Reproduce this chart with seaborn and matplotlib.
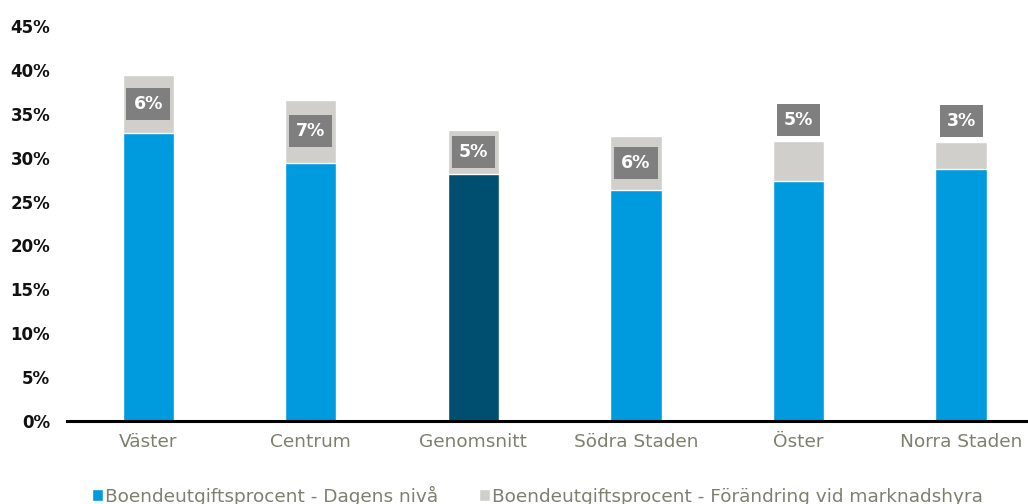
import pandas as pd
import numpy as np
import matplotlib
matplotlib.use('Agg')
import matplotlib.pyplot as plt
import seaborn as sns
from matplotlib.patches import Patch

# Data
omraden = ['Väster', 'Centrum', 'Genomsnitt', 'Södra Staden', 'Öster', 'Norra Staden']
dagens_niva = [32.8, 29.4, 28.1, 26.3, 27.4, 28.7]
forandring = [6.6, 7.2, 5.1, 6.2, 4.5, 3.1]
etiketter = ['6%', '7%', '5%', '6%', '5%', '3%']

BLA = '#009ADE'
MORKBLA = '#004F71'
GRA = '#D0CFCB'
ETIKETT = '#7F7F7F'
TEXTGRA = '#7F7F70'

df = pd.DataFrame({'Område': omraden, 'Dagens': dagens_niva, 'Förändring': forandring})
df['Totalt'] = df['Dagens'] + df['Förändring']

sns.set_theme(style='white')
plt.rcParams['font.family'] = ['DejaVu Sans']

fig = plt.figure(figsize=(10.28, 5.04), dpi=100)
# axeln går lite utanför högerkanten, som i originalet
ax = fig.add_axes([0.065, 0.165, 0.949, 0.783])

# grå totalstaplar, sedan blå ovanpå
sns.barplot(data=df, x='Område', y='Totalt', color=GRA, width=0.315,
            saturation=1, ax=ax)
farger = [MORKBLA if o == 'Genomsnitt' else BLA for o in omraden]
sns.barplot(data=df, x='Område', y='Dagens', hue='Område', palette=farger,
            width=0.315, saturation=1, legend=False, ax=ax)

# etiketter för förändringen
for i, row in df.iterrows():
    if row['Förändring'] >= 5:
        y = row['Dagens'] + row['Förändring'] / 2
    else:
        y = row['Totalt'] + 2.4
    ax.text(i, y, etiketter[i], ha='center', va='center', color='white',
            fontsize=12.5, fontweight='bold',
            bbox=dict(boxstyle='square,pad=0.4', facecolor=ETIKETT, edgecolor='none'))

ax.set_ylim(0, 45)
ax.set_xlim(-0.5, 5.5)
ax.set_yticks(np.arange(0, 46, 5))
ax.set_yticklabels([f'{v}%' for v in range(0, 46, 5)], fontsize=12,
                   fontweight='bold', color='#111111')
ax.tick_params(axis='y', length=0, pad=12)
ax.tick_params(axis='x', length=0, pad=9, labelsize=13.3, labelcolor=TEXTGRA)
ax.set_xlabel('')
ax.set_ylabel('')
for s in ['top', 'right', 'left']:
    ax.spines[s].set_visible(False)
ax.spines['bottom'].set_color('black')
ax.spines['bottom'].set_linewidth(2.2)

handles = [Patch(facecolor=BLA, label='Boendeutgiftsprocent - Dagens nivå'),
           Patch(facecolor=GRA, label='Boendeutgiftsprocent - Förändring vid marknadshyra')]
leg = fig.legend(handles=handles, loc='lower center', bbox_to_anchor=(0.523, -0.036),
                 ncol=2, frameon=False, fontsize=13.3, handlelength=0.6,
                 handleheight=0.6, handletextpad=0.1, columnspacing=2.2)
for t in leg.get_texts():
    t.set_color(TEXTGRA)

plt.savefig('out.png', dpi=100)
plt.close()
